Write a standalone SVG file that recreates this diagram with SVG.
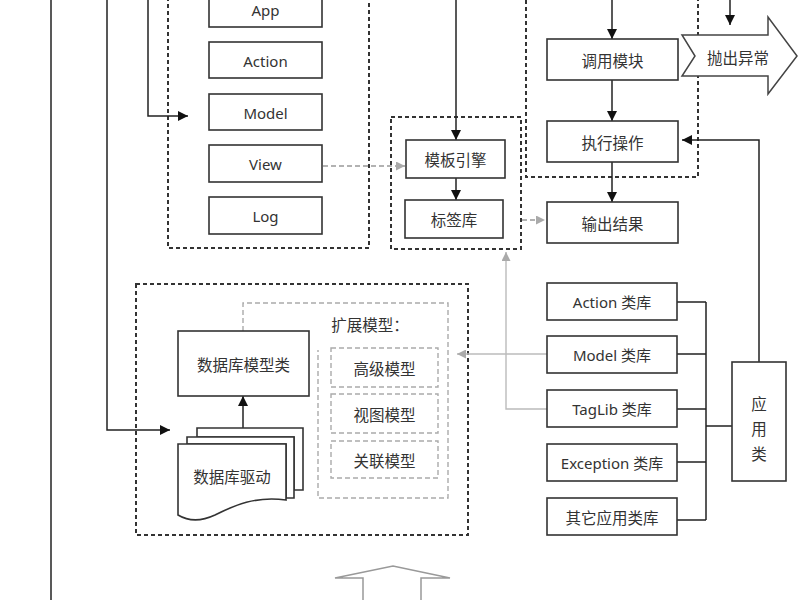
<svg xmlns="http://www.w3.org/2000/svg" width="800" height="600" viewBox="0 0 800 600">
<defs>
<marker id="ah" viewBox="0 0 10 10" refX="10" refY="5" markerWidth="10" markerHeight="10" markerUnits="userSpaceOnUse" orient="auto">
<path d="M0,0 L10,5 L0,10 z" fill="#111"/>
</marker>
<marker id="ahg" viewBox="0 0 10 10" refX="10" refY="5" markerWidth="9" markerHeight="9" markerUnits="userSpaceOnUse" orient="auto">
<path d="M0,0 L10,5 L0,10 z" fill="#aaa"/>
</marker>
<style>
.box{fill:#fff;stroke:#333;stroke-width:1.6}
.grp{fill:none;stroke:#333;stroke-width:2;stroke-dasharray:4 3}
.ext{fill:none;stroke:#aaa;stroke-width:1.4;stroke-dasharray:5 3}
.ln{fill:none;stroke:#222;stroke-width:1.5}
.gl{fill:none;stroke:#bbb;stroke-width:1.4}
.gd{fill:none;stroke:#999;stroke-width:1.4;stroke-dasharray:5 3}
text{font-family:"Noto Sans","DejaVu Sans","Noto Sans CJK SC",sans-serif;font-size:15px;fill:#333;text-anchor:middle;dominant-baseline:central}
.cn{font-family:"Noto Sans CJK SC","Noto Sans",sans-serif;font-size:15.5px}
</style>
</defs>
<rect width="800" height="600" fill="#fff"/>

<!-- group frames -->
<g id="groups">
<rect class="grp" x="168" y="-20" width="201" height="268"/>
<rect class="grp" x="391" y="117" width="130" height="132"/>
<rect class="grp" x="526" y="-20" width="172" height="197"/>
<rect class="grp" x="136" y="284" width="332" height="251"/>
<path class="ext" d="M243,331 V303 H448 V498 H318 V350"/>
</g>

<!-- connectors -->
<g id="connectors">
<path class="ln" d="M51,0 V600"/>
<path class="ln" d="M107,0 V430 H170" marker-end="url(#ah)"/>
<path class="ln" d="M148,0 V116 H188" marker-end="url(#ah)"/>
<path class="ln" d="M456,0 V140" marker-end="url(#ah)"/>
<path class="ln" d="M456,178 V200" marker-end="url(#ah)"/>
<path class="ln" d="M612,0 V39" marker-end="url(#ah)"/>
<path class="ln" d="M612,80 V121" marker-end="url(#ah)"/>
<path class="ln" d="M612,162 V202" marker-end="url(#ah)"/>
<path class="ln" d="M730,0 V25" marker-end="url(#ah)"/>
<path class="ln" d="M759,362 V140 H682" marker-end="url(#ah)"/>
<path class="ln" d="M677,302 H706 M677,354 H706 M677,409 H706 M677,462 H706 M677,520 H706 M706,302 V520 M706,426 H732"/>
<path class="ln" d="M243,428 V396" marker-end="url(#ah)"/>
<path class="gd" d="M315,166 H405" marker-end="url(#ahg)"/>
<path class="gd" d="M522,220 H545" marker-end="url(#ahg)"/>
<path class="gl" d="M547,354 H457" marker-end="url(#ahg)"/>
<path class="gl" d="M547,409 H506 V252" marker-end="url(#ahg)"/>
</g>

<!-- left module stack -->
<g id="app"><rect class="box" x="209" y="-9" width="113" height="36"/><text x="265.5" y="10">App</text></g>
<g id="action"><rect class="box" x="209" y="42" width="113" height="36"/><text x="265.5" y="61">Action</text></g>
<g id="model"><rect class="box" x="209" y="94" width="113" height="36"/><text x="265.5" y="113">Model</text></g>
<g id="view"><rect class="box" x="209" y="145" width="113" height="37"/><text x="265.5" y="164">View</text></g>
<g id="log"><rect class="box" x="209" y="197" width="113" height="37"/><text x="265.5" y="216">Log</text></g>

<!-- template engine -->
<g id="tpl"><rect class="box" x="406" y="140" width="99" height="38"/><text class="cn" x="455.5" y="159">模板引擎</text></g>
<g id="taglib"><rect class="box" x="405" y="200" width="98" height="38"/><text class="cn" x="454" y="219">标签库</text></g>

<!-- execution -->
<g id="call"><rect class="box" x="547" y="39" width="131" height="41"/><text class="cn" x="612.5" y="60">调用模块</text></g>
<g id="exec"><rect class="box" x="547" y="121" width="131" height="41"/><text class="cn" x="612.5" y="142">执行操作</text></g>
<g id="output"><rect class="box" x="547" y="202" width="131" height="41"/><text class="cn" x="612.5" y="223">输出结果</text></g>
<g id="throw"><polygon points="682,35 768,35 768,17 797,56 768,94 768,76 682,76 695,56" fill="#fff" stroke="#444" stroke-width="1.5"/><text class="cn" x="738" y="57">抛出异常</text></g>

<!-- database section -->
<g id="dbmodel"><rect class="box" x="178" y="331" width="131" height="65"/><text class="cn" x="243.5" y="364">数据库模型类</text></g>
<g id="dbdriver">
<path class="box" d="M197,428 H303 V490 H294 V437 H197 Z"/>
<path class="box" d="M187,437 H294 V498 H286 V444 H187 Z"/>
<path class="box" d="M178,444 H286 V500 C255,496 235,505 215,515 C200,522 188,521 178,515 Z"/>
<text class="cn" x="232" y="476">数据库驱动</text>
</g>
<g id="extmodel">
<text class="cn" x="370" y="324">扩展模型：</text>
<g id="adv"><rect class="ext" x="331" y="348" width="107" height="39"/><text class="cn" x="384.5" y="368">高级模型</text></g>
<g id="viewm"><rect class="ext" x="331" y="394" width="107" height="39"/><text class="cn" x="384.5" y="414">视图模型</text></g>
<g id="rel"><rect class="ext" x="331" y="441" width="107" height="37"/><text class="cn" x="384.5" y="460">关联模型</text></g>
</g>

<!-- libraries -->
<g id="lib-action"><rect class="box" x="547" y="283" width="130" height="37"/><text x="612" y="301.5">Action 类库</text></g>
<g id="lib-model"><rect class="box" x="547" y="336" width="130" height="37"/><text x="612" y="354.5">Model 类库</text></g>
<g id="lib-taglib"><rect class="box" x="547" y="390" width="130" height="37"/><text x="612" y="408.5">TagLib 类库</text></g>
<g id="lib-exc"><rect class="box" x="547" y="444" width="130" height="37"/><text x="612" y="462.5">Exception 类库</text></g>
<g id="lib-other"><rect class="box" x="547" y="498" width="130" height="37"/><text class="cn" x="612" y="516.5">其它应用类库</text></g>
<g id="appclass"><rect class="box" x="732" y="362" width="54" height="119"/>
<text class="cn" x="759" y="403">应</text><text class="cn" x="759" y="428">用</text><text class="cn" x="759" y="453">类</text></g>

<!-- bottom hollow arrow -->
<g id="uparrow"><polygon points="363,605 363,578 335,578 393,566 450,578 421,578 421,605" fill="#fff" stroke="#999" stroke-width="1.5"/></g>
</svg>
